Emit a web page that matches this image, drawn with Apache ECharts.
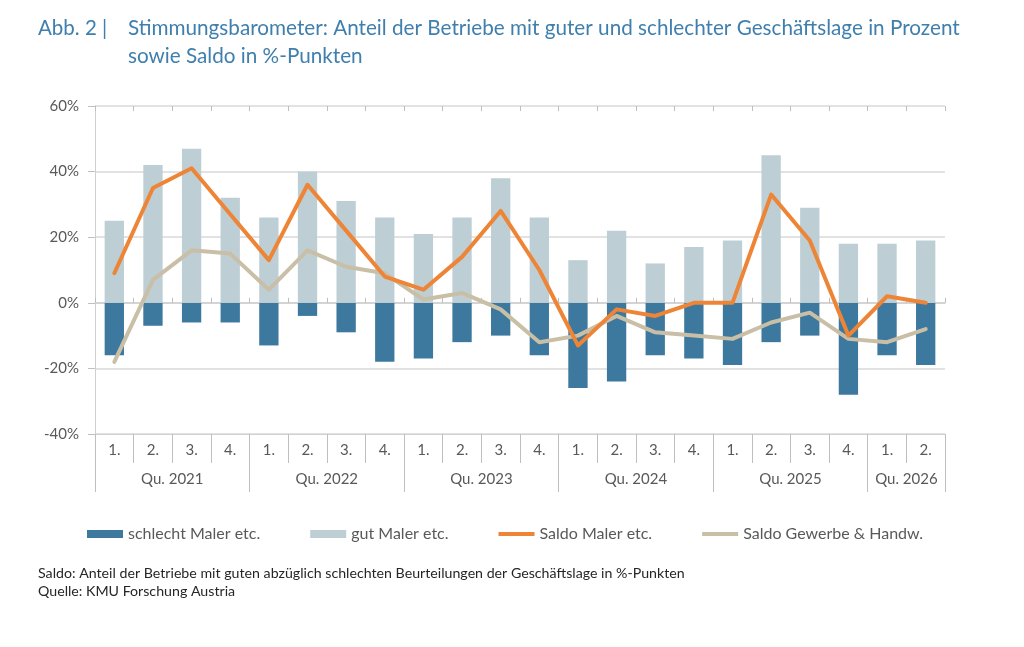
<!DOCTYPE html>
<html>
<head>
<meta charset="utf-8">
<script src="https://cdn.jsdelivr.net/npm/echarts@6/dist/echarts.min.js"></script>
<style>
  html, body { margin: 0; padding: 0; background: #fff; }
  #chart { width: 1024px; height: 647px; }
</style>
</head>
<body>
<div id="chart"></div>
<script>
// Quartale Q1/2021 .. Q2/2026
var quarters = ['1.','2.','3.','4.','1.','2.','3.','4.','1.','2.','3.','4.','1.','2.','3.','4.','1.','2.','3.','4.','1.','2.'];
var years = ['Qu. 2021','Qu. 2022','Qu. 2023','Qu. 2024','Qu. 2025','Qu. 2026'];
var yearSpans = [4, 4, 4, 4, 4, 2];

var schlecht = [-16, -7, -6, -6, -13, -4, -9, -18, -17, -12, -10, -16, -26, -24, -16, -17, -19, -12, -10, -28, -16, -19];
var gut      = [25, 42, 47, 32, 26, 40, 31, 26, 21, 26, 38, 26, 13, 22, 12, 17, 19, 45, 29, 18, 18, 19];
var saldoMaler   = [9, 35, 41, 27, 13, 36, 22, 8, 4, 14, 28, 10, -13, -2, -4, 0, 0, 33, 19, -10, 2, 0];
var saldoGewerbe = [-18, 7, 16, 15, 4, 16, 11, 9, 1, 3, -2, -12, -10, -4, -9, -10, -11, -6, -3, -11, -12, -8];

var yTicks = [-40, -20, 0, 20, 40, 60];

// Jahresgrenzen und -mitten auf der Quartalsachse
var yearBounds = [0], yearMids = [];
var acc = 0;
for (var i = 0; i < yearSpans.length; i++) {
  yearMids.push(acc + yearSpans[i] / 2);
  acc += yearSpans[i];
  yearBounds.push(acc);
}

var FONT = 'Lato';
var GREY = '#595959';
var LINE = '#d0d0d0';
var LINE_ICON = 'path://M0,0H36V4H0Z';

var myChart = echarts.init(document.getElementById('chart'));

var option = {
  animation: false,
  textStyle: { fontFamily: FONT },
  title: [
    {
      text: 'Abb. 2 |',
      left: 33, top: 9,
      textStyle: { fontFamily: FONT, fontSize: 20.5, fontWeight: 'normal', color: '#3f7fae', lineHeight: 28 }
    },
    {
      text: 'Stimmungsbarometer: Anteil der Betriebe mit guter und schlechter Geschäftslage in Prozent\nsowie Saldo in %-Punkten',
      left: 123, top: 9,
      textStyle: { fontFamily: FONT, fontSize: 20.7, fontWeight: 'normal', color: '#3f7fae', lineHeight: 28 }
    },
    {
      text: 'Saldo: Anteil der Betriebe mit guten abzüglich schlechten Beurteilungen der Geschäftslage in %-Punkten\nQuelle: KMU Forschung Austria',
      left: 33, top: 559,
      textStyle: { fontFamily: FONT, fontSize: 14.2, fontWeight: 'normal', color: '#262626', lineHeight: 18 }
    }
  ],
  legend: {
    left: 82, top: 521,
    itemWidth: 36, itemHeight: 8, itemGap: 50,
    textStyle: { fontFamily: FONT, fontSize: 16, color: GREY },
    data: [
      { name: 'schlecht Maler etc.', icon: 'rect' },
      { name: 'gut Maler etc.', icon: 'rect' },
      { name: 'Saldo Maler etc.', icon: LINE_ICON },
      { name: 'Saldo Gewerbe & Handw.', icon: LINE_ICON }
    ]
  },
  grid: { left: 95, right: 79, top: 106, bottom: 213 },
  xAxis: [
    {
      // Nulllinie mit Teilstrichen nach oben
      type: 'category', data: quarters, position: 'bottom',
      axisLine: { onZero: true, lineStyle: { color: LINE, width: 1.5 } },
      axisTick: { show: true, inside: true, length: 5, interval: 0, lineStyle: { color: '#bfbfbf' } },
      axisLabel: { show: false }
    },
    {
      // Nulllinie mit Teilstrichen nach unten
      type: 'category', data: quarters, position: 'top',
      axisLine: { onZero: true, show: false },
      axisTick: { show: true, inside: true, length: 5, interval: 0, lineStyle: { color: '#bfbfbf' } },
      axisLabel: { show: false }
    },
    {
      // Quartalsbeschriftung unten
      type: 'category', data: quarters, position: 'bottom',
      axisLine: { onZero: false, lineStyle: { color: LINE } },
      axisTick: { show: true, length: 29, interval: 0, lineStyle: { color: '#bfbfbf' } },
      axisLabel: { interval: 0, margin: 9, fontFamily: FONT, fontSize: 15, color: GREY }
    },
    {
      // Jahresbeschriftung
      type: 'value', min: 0, max: quarters.length, position: 'bottom', offset: 29,
      axisLine: { onZero: false, show: false },
      splitLine: { show: false },
      axisTick: { show: true, length: 29, customValues: yearBounds, lineStyle: { color: '#bfbfbf' } },
      axisLabel: {
        customValues: yearMids, margin: 9, fontFamily: FONT, fontSize: 15, color: GREY,
        formatter: function (v) {
          var k = yearMids.indexOf(v);
          return k >= 0 ? years[k] : '';
        }
      }
    }
  ],
  yAxis: {
    type: 'value', min: yTicks[0], max: yTicks[yTicks.length - 1], interval: 20,
    axisLine: { show: true, lineStyle: { color: LINE } },
    axisTick: { show: true, length: 7, lineStyle: { color: '#bfbfbf' } },
    axisLabel: { formatter: '{value}%', fontFamily: FONT, fontSize: 15, color: GREY, margin: 16 },
    splitLine: { lineStyle: { color: '#d9d9d9', width: 1.5 } }
  },
  series: [
    {
      name: 'schlecht Maler etc.', type: 'bar', xAxisIndex: 0,
      barWidth: '50%', barGap: '-100%',
      itemStyle: { color: '#3d789e' },
      data: schlecht
    },
    {
      name: 'gut Maler etc.', type: 'bar', xAxisIndex: 0,
      barWidth: '50%', barGap: '-100%',
      itemStyle: { color: '#bdcfd5' },
      data: gut
    },
    {
      name: 'Saldo Gewerbe & Handw.', type: 'line', xAxisIndex: 0,
      symbol: 'none', smooth: false,
      lineStyle: { color: '#c9bfa7', width: 4, join: 'round', cap: 'round' },
      itemStyle: { color: '#c9bfa7' },
      data: saldoGewerbe
    },
    {
      name: 'Saldo Maler etc.', type: 'line', xAxisIndex: 0,
      symbol: 'none', smooth: false,
      lineStyle: { color: '#ee8536', width: 4, join: 'round', cap: 'round' },
      itemStyle: { color: '#ee8536' },
      data: saldoMaler
    }
  ]
};

myChart.setOption(option);
</script>
</body>
</html>
